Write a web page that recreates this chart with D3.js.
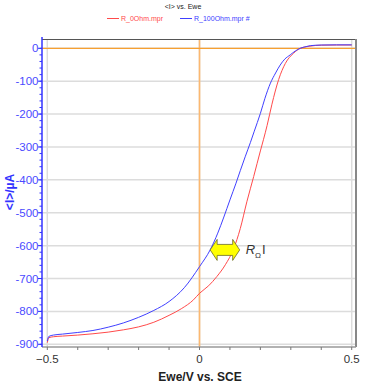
<!DOCTYPE html>
<html><head><meta charset="utf-8">
<script src="https://cdn.jsdelivr.net/npm/d3@7"></script>
<style>body{margin:0;background:#fff}svg{display:block;font-family:"Liberation Sans",Arial,sans-serif}</style>
</head><body><svg id="c" width="366" height="390"></svg>
<script>
const chartTitle = "<I> vs. Ewe";
const seriesNames = ["R_0Ohm.mpr", "R_100Ohm.mpr #"];
const seriesColors = ["#ff4a4a", "#4040ff"];
const xTicks = [-0.5, 0, 0.5];
const yTicks = [0, -100, -200, -300, -400, -500, -600, -700, -800, -900];
const xLabel = "Ewe/V vs. SCE";
const yLabel = "<I>/µA";
// R_0Ohm (red)
const redE = [-0.5,-0.495,-0.48,-0.45,-0.4,-0.35,-0.3,-0.25,-0.2,-0.15,-0.1,-0.06,-0.02,0,0.03,0.057,0.085,0.112,0.134,0.156,0.178,0.2,0.21,0.222,0.238,0.26,0.282,0.309,0.331,0.36,0.4,0.45,0.5];
const redI = [-895,-880,-877,-875,-872,-868,-863,-856,-847,-833,-812,-792,-765,-745,-722,-694,-658,-610,-548,-465,-390,-312,-278,-235,-170,-95,-46,-15,0,6,9.5,10,10];
// R_100Ohm (blue)
const blueE = [-0.5,-0.495,-0.48,-0.45,-0.4,-0.35,-0.3,-0.25,-0.2,-0.15,-0.1,-0.05,0,0.035,0.06,0.08,0.1,0.12,0.134,0.15,0.167,0.18,0.2,0.215,0.233,0.25,0.265,0.28,0.298,0.315,0.331,0.35,0.364,0.4,0.45,0.5];
const blueI = [-890,-876,-872,-869,-864,-858,-848,-835,-818,-797,-770,-728,-664,-613,-562,-513,-461,-410,-372,-330,-287,-252,-198,-152,-106,-75,-51,-33,-20,-8,0,5,8,10,10.5,10.5];
// annotation: double arrow (R_Ω I) position in data units
const arrowE = [0.035, 0.132];
const arrowI = -613;

const svg = d3.select("#c");
const L = 42, R = 356, T = 39, B = 347;
const x = d3.scaleLinear().domain([-0.5, 0.5]).range([47.3, 351.7]);
const y = d3.scaleLinear().domain([0, -900]).range([48.3, 344.3]);

// gridlines
const g = svg.append("g");
g.selectAll(".hg").data(yTicks).join("line")
  .attr("x1", L).attr("x2", R).attr("y1", d => y(d)).attr("y2", d => y(d))
  .attr("stroke", "#dcdcdc").attr("stroke-width", 1.5);
g.selectAll(".vg").data(xTicks).join("line")
  .attr("y1", T).attr("y2", B).attr("x1", d => x(d)).attr("x2", d => x(d))
  .attr("stroke", "#dcdcdc").attr("stroke-width", 1.5);

// orange zero lines
svg.append("line").attr("x1", x(0)).attr("x2", x(0)).attr("y1", T).attr("y2", B)
  .attr("stroke", "#fcb870").attr("stroke-width", 1.6);
svg.append("line").attr("x1", L).attr("x2", R).attr("y1", y(0)).attr("y2", y(0))
  .attr("stroke", "#f7a030").attr("stroke-width", 1.3);

// frame
svg.append("line").attr("x1", L).attr("x2", R).attr("y1", T + 0.5).attr("y2", T + 0.5).attr("stroke", "#555").attr("stroke-width", 1.2);
svg.append("line").attr("x1", R).attr("x2", R).attr("y1", T).attr("y2", B).attr("stroke", "#888").attr("stroke-width", 2);
svg.append("line").attr("x1", L).attr("x2", R).attr("y1", B).attr("y2", B).attr("stroke", "#999").attr("stroke-width", 1.5);

// curves
const line = d3.line().x(d => x(d[0])).y(d => y(d[1])).curve(d3.curveMonotoneX);
svg.append("path").datum(d3.zip(redE, redI)).attr("d", line)
  .attr("fill", "none").attr("stroke", seriesColors[0]).attr("stroke-width", 1);
svg.append("path").datum(d3.zip(blueE, blueI)).attr("d", line)
  .attr("fill", "none").attr("stroke", seriesColors[1]).attr("stroke-width", 1);

// x axis ticks (major + minor)
const xMinor = d3.range(-5, 6).map(i => i / 10);
svg.selectAll(".xt").data(xMinor).join("line")
  .attr("x1", d => x(d)).attr("x2", d => x(d)).attr("y1", B).attr("y2", B + 3)
  .attr("stroke", "#777").attr("stroke-width", 1);
svg.selectAll(".xl").data(xTicks).join("text")
  .attr("x", d => x(d)).attr("y", 363).attr("text-anchor", "middle")
  .attr("font-size", 11.5).attr("fill", "#333").text(d => d3.format("")(d));

// y axis
svg.append("line").attr("x1", L).attr("x2", L).attr("y1", T - 2).attr("y2", B).attr("stroke", "#3333ff").attr("stroke-width", 1.5);
const yMinor = d3.range(0, -901, -20);
svg.selectAll(".ytm").data(yMinor).join("line")
  .attr("x1", L - 2.5).attr("x2", L).attr("y1", d => y(d)).attr("y2", d => y(d))
  .attr("stroke", "#3333ff").attr("stroke-width", 1);
svg.selectAll(".ytM").data(yTicks).join("line")
  .attr("x1", L - 4).attr("x2", L).attr("y1", d => y(d)).attr("y2", d => y(d))
  .attr("stroke", "#3333ff").attr("stroke-width", 1);
svg.selectAll(".yl").data(yTicks).join("text")
  .attr("x", 38.5).attr("y", d => y(d) + 4).attr("text-anchor", "end")
  .attr("font-size", 11.5).attr("fill", "#4a4aff").text(d => d);

// axis titles
svg.append("text").attr("x", 200).attr("y", 381).attr("text-anchor", "middle")
  .attr("font-size", 12).attr("font-weight", "bold").attr("fill", "#222").text(xLabel);
svg.append("text").attr("transform", "translate(14,192) rotate(-90)").attr("text-anchor", "middle")
  .attr("font-size", 12).attr("font-weight", "bold").attr("fill", "#3333ff").text(yLabel);

// title + legend
svg.append("text").attr("x", 183).attr("y", 9).attr("text-anchor", "middle")
  .attr("font-size", 7).attr("fill", "#222").text(chartTitle);
const legX = [107, 180];
seriesNames.forEach((n, i) => {
  svg.append("line").attr("x1", legX[i]).attr("x2", legX[i] + 12).attr("y1", 18.5).attr("y2", 18.5)
    .attr("stroke", seriesColors[i]).attr("stroke-width", 1);
  svg.append("text").attr("x", legX[i] + 14).attr("y", 21).attr("font-size", 7)
    .attr("fill", seriesColors[i]).text(n);
});

// double arrow annotation
const ax1 = x(arrowE[0]), ax2 = x(arrowE[1]), ay = y(arrowI);
const hl = 7, bh = 5.5, hh = 10.5;
const pts = [[ax1, ay], [ax1 + hl, ay - hh], [ax1 + hl, ay - bh], [ax2 - hl, ay - bh], [ax2 - hl, ay - hh],
  [ax2, ay], [ax2 - hl, ay + hh], [ax2 - hl, ay + bh], [ax1 + hl, ay + bh], [ax1 + hl, ay + hh]];
svg.append("polygon").attr("points", pts.map(p => p.join(",")).join(" "))
  .attr("fill", "#ffff00").attr("stroke", "#6b6b2a").attr("stroke-width", 0.8);
const t = svg.append("text").attr("x", ax2 + 6).attr("y", ay + 4).attr("font-size", 13).attr("fill", "#333");
t.append("tspan").attr("font-style", "italic").text("R");
t.append("tspan").attr("font-size", 8).attr("dy", 4).text("Ω");
t.append("tspan").attr("dy", -4).attr("dx", 1).text("I");
</script></body></html>
